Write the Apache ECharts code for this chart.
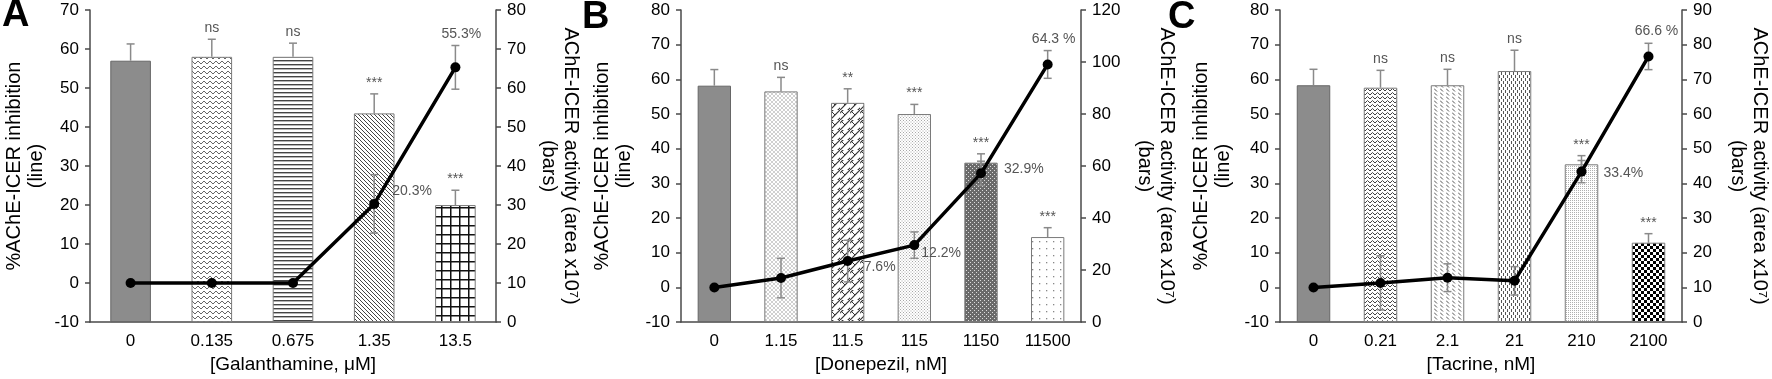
<!DOCTYPE html>
<html>
<head>
<meta charset="utf-8">
<script src="https://cdn.jsdelivr.net/npm/echarts@6/dist/echarts.min.js"></script>
<style>
  html, body { margin: 0; padding: 0; background: #fff; }
  #chart { width: 1772px; height: 379px; }
</style>
</head>
<body>
<div id="chart"></div>
<script>
// Panel A - Galanthamine
const galCats = ["0", "0.135", "0.675", "1.35", "13.5"];
const galBars = [67, 68, 68, 53.5, 30];
const galBarErr = [4.3, 4.5, 3.5, 5, 3.8];
const galLine = [0, 0, 0, 20.3, 55.3];
const galLineErr = [0, 0, 0, 7.5, 5.6];
const galSig = ["", "ns", "ns", "***", "***"];
const galPct = ["", "", "", "20.3%", "55.3%"];

// Panel B - Donepezil
const donCats = ["0", "1.15", "11.5", "115", "1150", "11500"];
const donBars = [90.9, 88.7, 84.3, 80, 61.3, 32.7];
const donBarErr = [6.2, 5.4, 5.4, 3.7, 3.4, 3.6];
const donLine = [0, 2.7, 7.6, 12.2, 32.9, 64.3];
const donLineErr = [0, 5.7, 6, 3.8, 3.5, 4];
const donSig = ["", "ns", "**", "***", "***", "***"];
const donPct = ["", "", "7.6%", "12.2%", "32.9%", "64.3 %"];

// Panel C - Tacrine
const tacCats = ["0", "0.21", "2.1", "21", "210", "2100"];
const tacBars = [68.3, 67.6, 68.3, 72.4, 45.5, 22.9];
const tacBarErr = [4.6, 5, 4.6, 6, 2.5, 2.6];
const tacLine = [0, 1.3, 2.8, 1.9, 33.4, 66.6];
const tacLineErr = [0, 7.8, 4, 4.1, 3.2, 3.8];
const tacSig = ["", "ns", "ns", "ns", "***", "***"];
const tacPct = ["", "", "", "", "33.4%", "66.6 %"];

const FONT = '"Liberation Sans", Arial, sans-serif';
const AXIS_COLOR = "#4a4a4a";
const ERR_COLOR = "#8a8a8a";
const NOTE_COLOR = "#555";

// --- fill patterns ---
function tile(w, h, draw) {
  const c = document.createElement("canvas");
  c.width = w;
  c.height = h;
  const g = c.getContext("2d");
  g.fillStyle = "#fff";
  g.fillRect(0, 0, w, h);
  draw(g);
  return { image: c, repeat: "repeat" };
}
function seg(g, pts, color, lw) {
  g.strokeStyle = color;
  g.lineWidth = lw;
  g.beginPath();
  g.moveTo(pts[0][0], pts[0][1]);
  for (let i = 1; i < pts.length; i++) g.lineTo(pts[i][0], pts[i][1]);
  g.stroke();
}
const solid = "#8c8c8c";
const pat = {
  waveA: tile(6, 5, (g) => seg(g, [[0, 1], [3, 4], [6, 1]], "#666", 1)),
  hlines: tile(4, 4, (g) => { g.fillStyle = "#444"; g.fillRect(0, 0, 4, 1.4); }),
  diag: tile(4, 4, (g) => {
    seg(g, [[-1, -1], [5, 5]], "#444", 1);
    seg(g, [[3, -1], [5, 1]], "#444", 1);
    seg(g, [[-1, 3], [1, 5]], "#444", 1);
  }),
  grid: tile(9, 9, (g) => { g.fillStyle = "#111"; g.fillRect(0, 0, 9, 1.5); g.fillRect(0, 0, 1.5, 9); }),
  lightHatch: tile(4, 4, (g) => {
    seg(g, [[0, 2], [2, 0], [4, 2], [2, 4], [0, 2]], "#c4c4c4", 0.8);
  }),
  lattice: tile(10, 10, (g) => {
    seg(g, [[-1, 11], [11, -1]], "#333", 1.2);
    seg(g, [[4, -1], [-1, 4]], "#333", 1.2);
    seg(g, [[14, 4], [4, 14]], "#333", 1.2);
    seg(g, [[1, 1], [5, 5]], "#333", 1);
  }),
  fineDots: tile(3, 3, (g) => { g.fillStyle = "#a8a8a8"; g.fillRect(0, 0, 1, 1); g.fillRect(1.5, 1.5, 1, 1); }),
  darkHatch: tile(4, 4, (g) => {
    g.fillStyle = "#6a6a6a"; g.fillRect(0, 0, 4, 4);
    g.fillStyle = "#ddd"; g.fillRect(0, 0, 1, 1); g.fillRect(2, 2, 1, 1);
  }),
  sparseDots: tile(7, 7, (g) => { g.fillStyle = "#888"; g.fillRect(3, 3, 1.3, 1.3); }),
  waveC: tile(5, 4, (g) => seg(g, [[0, 3], [2.5, 0.5], [5, 3]], "#444", 1)),
  dashDiag: tile(6, 4, (g) => seg(g, [[0, 0.5], [3, 3.5]], "#555", 1)),
  vdash: tile(4, 6, (g) => { g.fillStyle = "#555"; g.fillRect(1, 0, 1, 3); g.fillRect(3, 3, 1, 3); }),
  lightDots: tile(2, 2, (g) => { g.fillStyle = "#b0b0b0"; g.fillRect(0, 0, 1, 1); }),
  checker: tile(6, 6, (g) => { g.fillStyle = "#000"; g.fillRect(0, 0, 3, 3); g.fillRect(3, 3, 3, 3); }),
};

const galFills = [solid, pat.waveA, pat.hlines, pat.diag, pat.grid];
const donFills = [solid, pat.lightHatch, pat.lattice, pat.fineDots, pat.darkHatch, pat.sparseDots];
const tacFills = [solid, pat.waveC, pat.dashDiag, pat.vdash, pat.lightDots, pat.checker];

// label placement for the % labels: [mode, dx, dy]
const galPctPos = [null, null, null, ["right", 18, -13], ["top", 6, -4]];
const donPctPos = [null, null, ["right", 16, 6], ["right", 7, 8], ["right", 23, -4], ["top", 6, -4]];
const tacPctPos = [null, null, null, null, ["right", 22, 2], ["top", 8, -5]];

const grids = [
  { left: 90, top: 10, width: 406, height: 313 },
  { left: 681, top: 10, width: 400, height: 313 },
  { left: 1280, top: 10, width: 403, height: 313 },
];

const xAxes = [], yAxes = [], series = [];

function addPanel(i, p) {
  xAxes.push({
    gridIndex: i,
    type: "category",
    data: p.cats,
    axisTick: { show: false },
    axisLine: { onZero: false, lineStyle: { color: AXIS_COLOR, width: 1.5 } },
    axisLabel: { color: "#000", fontSize: 17, margin: 11 },
    name: p.xName,
    nameLocation: "middle",
    nameGap: 28,
    nameTextStyle: { color: "#000", fontSize: 19 },
  });
  const yCommon = {
    gridIndex: i,
    type: "value",
    splitLine: { show: false },
    axisLine: { show: true, lineStyle: { color: AXIS_COLOR, width: 1.5 } },
    axisTick: { show: true, length: 5, lineStyle: { color: AXIS_COLOR, width: 1.5 } },
    axisLabel: { color: "#000", fontSize: 17, margin: 11 },
    nameLocation: "middle",
    nameTextStyle: { color: "#000", fontSize: 20, lineHeight: 22 },
  };
  yAxes.push(Object.assign({}, yCommon, {
    position: "left",
    min: p.left[0], max: p.left[1], interval: p.left[2],
    name: "%AChE-ICER inhibition\n(line)",
    nameRotate: 90,
    nameGap: p.leftGap,
  }));
  yAxes.push(Object.assign({}, yCommon, {
    position: "right",
    min: p.right[0], max: p.right[1], interval: p.right[2],
    name: "AChE-ICER activity (area x10\u2077)\n(bars)",
    nameRotate: -90,
    nameGap: p.rightGap,
  }));
  const ly = 2 * i, ry = 2 * i + 1;

  series.push({
    type: "bar",
    xAxisIndex: i,
    yAxisIndex: ry,
    barWidth: "50%",
    z: 2,
    itemStyle: { borderColor: "#7a7a7a", borderWidth: 1 },
    data: p.bars.map((v, k) => ({ value: v, itemStyle: { color: p.fills[k], borderColor: k === 0 ? "#666" : "#7a7a7a" } })),
  });

  // bar error bars + significance marks
  series.push({
    type: "custom",
    xAxisIndex: i,
    yAxisIndex: ry,
    z: 3,
    data: p.bars.map((v, k) => [k, v, v + p.barErr[k]]),
    encode: { x: 0, y: [1, 2] },
    renderItem(params, api) {
      const k = api.value(0);
      const lo = api.coord([k, api.value(1)]);
      const hi = api.coord([k, api.value(2)]);
      const st = { stroke: ERR_COLOR, lineWidth: 1.5 };
      const kids = [
        { type: "line", shape: { x1: lo[0], y1: lo[1], x2: hi[0], y2: hi[1] }, style: st },
        { type: "line", shape: { x1: hi[0] - 4, y1: hi[1], x2: hi[0] + 4, y2: hi[1] }, style: st },
      ];
      const s = p.sig[params.dataIndex];
      if (s) {
        kids.push({
          type: "text",
          x: hi[0], y: hi[1] - 4,
          style: { text: s, align: "center", verticalAlign: "bottom", fill: NOTE_COLOR, font: "14px " + FONT },
        });
      }
      return { type: "group", children: kids };
    },
  });

  // line error bars + % labels
  series.push({
    type: "custom",
    xAxisIndex: i,
    yAxisIndex: ly,
    z: 4,
    data: p.line.map((v, k) => [k, v - p.lineErr[k], v + p.lineErr[k], v]),
    encode: { x: 0, y: [1, 2] },
    renderItem(params, api) {
      const k = api.value(0);
      const lo = api.coord([k, api.value(1)]);
      const hi = api.coord([k, api.value(2)]);
      const pt = api.coord([k, api.value(3)]);
      const st = { stroke: ERR_COLOR, lineWidth: 1.5 };
      const kids = [];
      if (hi[1] < lo[1] - 0.5) {
        kids.push(
          { type: "line", shape: { x1: lo[0], y1: lo[1], x2: hi[0], y2: hi[1] }, style: st },
          { type: "line", shape: { x1: hi[0] - 4, y1: hi[1], x2: hi[0] + 4, y2: hi[1] }, style: st },
          { type: "line", shape: { x1: lo[0] - 4, y1: lo[1], x2: lo[0] + 4, y2: lo[1] }, style: st }
        );
      }
      const txt = p.pct[params.dataIndex];
      const pos = p.pctPos[params.dataIndex];
      if (txt && pos) {
        const top = pos[0] === "top";
        kids.push({
          type: "text",
          z2: 10,
          x: pt[0] + pos[1],
          y: (top ? hi[1] : pt[1]) + pos[2],
          style: {
            text: txt,
            align: top ? "center" : "left",
            verticalAlign: top ? "bottom" : "middle",
            fill: NOTE_COLOR,
            font: "14px " + FONT,
          },
        });
      }
      return { type: "group", children: kids };
    },
  });

  series.push({
    type: "line",
    xAxisIndex: i,
    yAxisIndex: ly,
    z: 5,
    data: p.line,
    symbol: "circle",
    symbolSize: 10,
    itemStyle: { color: "#000" },
    lineStyle: { color: "#000", width: 3.5 },
  });
}

addPanel(0, {
  cats: galCats, bars: galBars, barErr: galBarErr, line: galLine, lineErr: galLineErr,
  sig: galSig, pct: galPct, pctPos: galPctPos, fills: galFills,
  xName: "[Galanthamine, \u03bcM]", left: [-10, 70, 10], right: [0, 80, 10], leftGap: 43, rightGap: 42,
});
addPanel(1, {
  cats: donCats, bars: donBars, barErr: donBarErr, line: donLine, lineErr: donLineErr,
  sig: donSig, pct: donPct, pctPos: donPctPos, fills: donFills,
  xName: "[Donepezil, nM]", left: [-10, 80, 10], right: [0, 120, 20], leftGap: 46, rightGap: 53,
});
addPanel(2, {
  cats: tacCats, bars: tacBars, barErr: tacBarErr, line: tacLine, lineErr: tacLineErr,
  sig: tacSig, pct: tacPct, pctPos: tacPctPos, fills: tacFills,
  xName: "[Tacrine, nM]", left: [-10, 80, 10], right: [0, 90, 10], leftGap: 46, rightGap: 45,
});

const letterStyle = { font: "bold 38px " + FONT, fill: "#000" };
const chart = echarts.init(document.getElementById("chart"), null, { renderer: "canvas" });
chart.setOption({
  animation: false,
  backgroundColor: "#fff",
  textStyle: { fontFamily: FONT },
  grid: grids,
  xAxis: xAxes,
  yAxis: yAxes,
  series,
  graphic: [
    { type: "text", left: 2, top: -3, style: Object.assign({ text: "A" }, letterStyle) },
    { type: "text", left: 582, top: -1, style: Object.assign({ text: "B" }, letterStyle) },
    { type: "text", left: 1168, top: -1, style: Object.assign({ text: "C" }, letterStyle) },
  ],
});
</script>
</body>
</html>
